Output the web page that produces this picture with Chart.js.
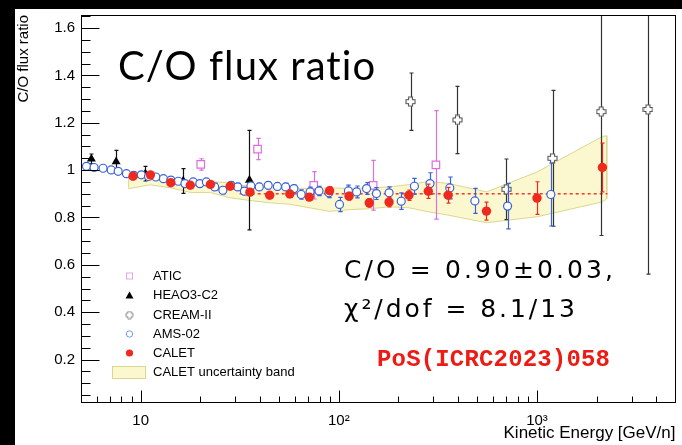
<!DOCTYPE html>
<html>
<head>
<meta charset="utf-8">
<script src="https://cdn.jsdelivr.net/npm/chart.js@4.4.1/dist/chart.umd.min.js"></script>
<style>
  html, body { margin: 0; padding: 0; background: #fff; overflow: hidden; }
  canvas { display: block; }
</style>
</head>
<body>
<canvas id="chart" width="682" height="445"></canvas>
<script>
// ---- C/O flux ratio vs kinetic energy per nucleon ----

// CALET
const calE     = [9.15, 11.2, 14.2, 17.8, 22.5, 28.3, 35.6, 44.8, 56.6, 71.0, 89.8, 112.6, 142.4, 179.3, 225.7, 282.8, 356, 556, 1000, 2138];
const calRatio = [0.974, 0.980, 0.947, 0.936, 0.940, 0.932, 0.907, 0.894, 0.899, 0.886, 0.913, 0.890, 0.862, 0.865, 0.894, 0.911, 0.894, 0.827, 0.882, 1.011];
const calErr   = [0.008, 0.008, 0.009, 0.009, 0.009, 0.010, 0.011, 0.012, 0.013, 0.014, 0.016, 0.016, 0.018, 0.020, 0.022, 0.030, 0.033, 0.038, 0.069, 0.103];

// CALET uncertainty band (upper / lower edge)
const bandE     = [8.7, 9.15, 11.2, 14.2, 17.8, 22.5, 28.3, 35.6, 44.8, 56.6, 71.0, 89.8, 112.6, 142.4, 179.3, 225.7, 282.8, 356, 556, 1000, 2138, 2250];
const bandUpper = [0.971, 0.973, 0.979, 0.956, 0.950, 0.952, 0.946, 0.931, 0.925, 0.923, 0.923, 0.925, 0.923, 0.925, 0.929, 0.939, 0.952, 0.944, 0.908, 0.992, 1.142, 1.145];
const bandLower = [0.922, 0.925, 0.938, 0.925, 0.906, 0.905, 0.883, 0.872, 0.862, 0.856, 0.841, 0.826, 0.833, 0.837, 0.845, 0.841, 0.824, 0.810, 0.778, 0.803, 0.866, 0.879];

// Constant fit to CALET above ~30 GeV/n
const fitE = [31.6, 2265];
const fitValue = 0.90;

// AMS-02
const amsE     = [5.33, 5.82, 6.46, 7.10, 7.70, 8.48, 9.23, 10.08, 10.96, 11.93, 13.03, 14.21, 15.49, 16.73, 18.41, 19.89, 21.46, 23.64, 26.0, 28.61, 30.9, 33.39, 36.02, 39.68, 44.0, 48.98, 53.89, 59.36, 64.57, 71.61, 79.43, 89.13, 100.8, 111.8, 123.0, 138.0, 154.9, 179.3, 206.5, 240.7, 288.4, 363.1, 485.9, 710.5, 1175];
const amsRatio = [1.016, 1.011, 1.008, 1.001, 0.995, 0.985, 0.978, 0.980, 0.973, 0.971, 0.964, 0.958, 0.953, 0.943, 0.950, 0.943, 0.950, 0.929, 0.915, 0.936, 0.929, 0.911, 0.933, 0.929, 0.936, 0.931, 0.929, 0.922, 0.897, 0.908, 0.912, 0.904, 0.855, 0.912, 0.908, 0.922, 0.901, 0.904, 0.869, 0.932, 0.943, 0.925, 0.870, 0.848, 0.897];
const amsErr   = [0.010, 0.010, 0.010, 0.010, 0.010, 0.010, 0.010, 0.010, 0.010, 0.010, 0.010, 0.010, 0.010, 0.010, 0.010, 0.010, 0.010, 0.015, 0.015, 0.015, 0.015, 0.015, 0.015, 0.015, 0.015, 0.015, 0.015, 0.015, 0.020, 0.020, 0.020, 0.020, 0.030, 0.025, 0.025, 0.025, 0.025, 0.025, 0.035, 0.033, 0.046, 0.046, 0.053, 0.096, 0.133];

// HEAO3-C2
const heaoE     = [5.64, 7.52, 10.56, 16.4, 35.4];
const heaoRatio = [1.047, 1.036, 0.985, 0.954, 0.958];
const heaoErr   = [0.021, 0.047, 0.031, 0.052, 0.210];

// ATIC
const aticE     = [20.1, 38.9, 74.7, 149, 309];
const aticRatio = [1.024, 1.089, 0.936, 0.936, 1.022];
const aticErr   = [0.024, 0.045, 0.058, 0.105, 0.229];

// CREAM-II
const creamE     = [230, 397, 700, 1198, 2107, 3631];
const creamRatio = [1.289, 1.212, 0.919, 1.050, 1.247, 1.256];
const creamErr   = [0.121, 0.142, 0.128, 0.287, 0.523, 0.695];

// Axis ticks
const xTickValues = [10, 100, 1000];
const xTickLabels = ['10', '10\u00B2', '10\u00B3'];
const yTickValues = [0.2, 0.4, 0.6, 0.8, 1.0, 1.2, 1.4, 1.6];
const yTickLabels = ['0.2', '0.4', '0.6', '0.8', '1', '1.2', '1.4', '1.6'];

// ---- styling ----
const RED = '#ee2a1f';
const BLUE = '#3a62d6';
const MAGENTA = '#dd6fdd';
const CREAM_GREY = '#555';
const BAND_FILL = '#fbf8d0';
const BAND_EDGE = '#dcd78e';
const AXIS_FONT = 'Liberation Sans';

const pts = (xs, ys) => xs.map((e, i) => ({ x: e, y: ys[i] }));

// open cross marker used for CREAM-II
function openCross(size, arm, stroke, lw) {
  const c = document.createElement('canvas');
  c.width = c.height = size;
  const g = c.getContext('2d');
  const m = size / 2, h = arm / 2, r = size / 2 - 1;
  g.beginPath();
  g.moveTo(m - h, m - r); g.lineTo(m + h, m - r); g.lineTo(m + h, m - h);
  g.lineTo(m + r, m - h); g.lineTo(m + r, m + h); g.lineTo(m + h, m + h);
  g.lineTo(m + h, m + r); g.lineTo(m - h, m + r); g.lineTo(m - h, m + h);
  g.lineTo(m - r, m + h); g.lineTo(m - r, m - h); g.lineTo(m - h, m - h);
  g.closePath();
  g.fillStyle = '#fff'; g.fill();
  g.strokeStyle = stroke; g.lineWidth = lw; g.stroke();
  return c;
}
const creamMarker = openCross(11, 4, CREAM_GREY, 1.1);
const creamLegendMarker = openCross(9, 3.4, '#8a8a8a', 1);

// closed outline of the band: along the upper edge, back along the lower edge
const bandShape = pts(bandE, bandUpper).concat(pts(bandE, bandLower).reverse());
bandShape.push(bandShape[0]);

// ---- plugins ----
const pageBackground = {
  id: 'pageBackground',
  beforeDraw(chart) {
    const { ctx, width, height } = chart;
    ctx.save();
    ctx.fillStyle = '#fff';
    ctx.fillRect(0, 0, width, height);
    ctx.fillStyle = '#000';
    ctx.fillRect(0, 0, width, 9);
    ctx.fillRect(0, 0, 15, height);
    ctx.restore();
  }
};

const errorBars = {
  id: 'errorBars',
  beforeDatasetDraw(chart, args) {
    const ds = chart.data.datasets[args.index];
    if (!ds.errorBars) return;
    const { ctx, chartArea: a, scales: { x, y } } = chart;
    const cap = ds.capWidth || 2.2;
    ctx.save();
    ctx.beginPath();
    ctx.rect(a.left, a.top, a.right - a.left, a.bottom - a.top);
    ctx.clip();
    ctx.strokeStyle = ds.errorColor;
    ctx.lineWidth = ds.errorWidth || 1.2;
    ds.data.forEach((p, i) => {
      const e = ds.errorBars[i];
      const px = Math.round(x.getPixelForValue(p.x)) + 0.5;
      const y1 = y.getPixelForValue(p.y + e);
      const y2 = y.getPixelForValue(p.y - e);
      ctx.beginPath();
      ctx.moveTo(px, y1); ctx.lineTo(px, y2);
      ctx.moveTo(px - cap, y1); ctx.lineTo(px + cap, y1);
      ctx.moveTo(px - cap, y2); ctx.lineTo(px + cap, y2);
      ctx.stroke();
    });
    ctx.restore();
  }
};

const frameTicks = {
  id: 'frameTicks',
  afterDatasetsDraw(chart) {
    const { ctx, chartArea: a, scales: { x, y } } = chart;
    const L = Math.round(a.left) + 0.5, R = Math.round(a.right) - 0.5;
    const T = Math.round(a.top) + 0.5, B = Math.round(a.bottom) - 0.5;
    ctx.save();
    ctx.strokeStyle = '#000';
    ctx.lineWidth = 1;
    ctx.strokeRect(L, T, R - L, B - T);
    ctx.beginPath();
    for (let k = 1; k <= 33; k++) {
      const v = k * 0.05;
      if (v < y.min || v > y.max) continue;
      const py = Math.round(y.getPixelForValue(v)) + 0.5;
      ctx.moveTo(L, py);
      ctx.lineTo(L + (k % 4 === 0 ? 18 : 9), py);
    }
    for (const d of [1, 10, 100, 1000]) {
      for (let m = 1; m <= 9; m++) {
        const v = m * d;
        if (v <= x.min || v >= x.max) continue;
        const px = Math.round(x.getPixelForValue(v)) + 0.5;
        ctx.moveTo(px, B);
        ctx.lineTo(px, B - (m === 1 ? 12 : 6));
      }
    }
    ctx.stroke();
    ctx.restore();
  }
};

// draws a string spread out to a given total width
function fitText(ctx, text, x, y, target) {
  ctx.letterSpacing = '0px';
  const w0 = ctx.measureText(text).width;
  const n = [...text].length;
  const ls = (target - w0) / Math.max(n - 1, 1);
  ctx.letterSpacing = ls.toFixed(2) + 'px';
  ctx.fillText(text, x, y);
  ctx.letterSpacing = '0px';
}

const annotations = {
  id: 'annotations',
  afterDraw(chart) {
    const { ctx } = chart;
    ctx.save();
    ctx.textBaseline = 'alphabetic';
    ctx.textAlign = 'left';

    // headline
    ctx.fillStyle = '#000';
    ctx.font = '40px Lato';
    fitText(ctx, 'C/O flux ratio', 118, 80, 258);

    // fit result
    ctx.font = '25px "DejaVu Sans"';
    fitText(ctx, 'C/O = 0.90\u00B10.03,', 344, 278, 269);
    fitText(ctx, '\u03C7\u00B2/dof = 8.1/13', 344, 317, 231);

    // reference tag
    ctx.fillStyle = '#ee1b14';
    ctx.font = 'bold 24px "Liberation Mono"';
    fitText(ctx, 'PoS(ICRC2023)058', 377, 366, 233);

    // legend
    const mx = 129.5, tx = 153;
    ctx.font = '13px "Liberation Sans"';
    ctx.textBaseline = 'middle';
    const rows = [
      ['ATIC', 276], ['HEAO3-C2', 295.5], ['CREAM-II', 315],
      ['AMS-02', 334], ['CALET', 353], ['CALET uncertainty band', 372]
    ];
    ctx.fillStyle = '#000';
    rows.forEach(([t, ry]) => ctx.fillText(t, tx, ry));

    ctx.lineWidth = 1;
    ctx.strokeStyle = '#e8a6e8';
    ctx.strokeRect(mx - 3, 276 - 3, 6, 6);
    ctx.fillStyle = '#000';
    ctx.beginPath();
    ctx.moveTo(mx, 295.5 - 4); ctx.lineTo(mx + 4, 295.5 + 3); ctx.lineTo(mx - 4, 295.5 + 3);
    ctx.closePath(); ctx.fill();
    ctx.drawImage(creamLegendMarker, mx - 4.5, 315 - 4.5);
    ctx.strokeStyle = '#7c96e4';
    ctx.beginPath(); ctx.arc(mx, 334, 3.2, 0, Math.PI * 2); ctx.stroke();
    ctx.fillStyle = RED;
    ctx.beginPath(); ctx.arc(mx, 353, 3.6, 0, Math.PI * 2); ctx.fill();
    ctx.fillStyle = BAND_FILL;
    ctx.fillRect(112.5, 366, 33, 12);
    ctx.strokeStyle = BAND_EDGE;
    ctx.strokeRect(112.5, 366.5, 33, 12);
    ctx.restore();
  }
};

// ---- chart ----
new Chart(document.getElementById('chart'), {
  type: 'scatter',
  data: {
    datasets: [
      {
        label: 'CALET', data: pts(calE, calRatio), errorBars: calErr, errorColor: RED, capWidth: 2,
        pointStyle: 'circle', pointRadius: 4.7, backgroundColor: RED, borderColor: RED, borderWidth: 0, order: 1
      },
      {
        label: 'AMS-02', data: pts(amsE, amsRatio), errorBars: amsErr, errorColor: BLUE, capWidth: 2.2,
        pointStyle: 'circle', pointRadius: 4, backgroundColor: '#fff', borderColor: BLUE, borderWidth: 1.2, order: 2
      },
      {
        label: 'HEAO3-C2', data: pts(heaoE, heaoRatio), errorBars: heaoErr, errorColor: '#111', capWidth: 2,
        pointStyle: 'triangle', pointRadius: 5.2, backgroundColor: '#000', borderColor: '#000', borderWidth: 0, order: 3
      },
      {
        label: 'CREAM-II', data: pts(creamE, creamRatio), errorBars: creamErr, errorColor: '#333', capWidth: 2,
        pointStyle: creamMarker, order: 4
      },
      {
        label: 'ATIC', data: pts(aticE, aticRatio), errorBars: aticErr, errorColor: MAGENTA, capWidth: 2.2,
        pointStyle: 'rect', pointRadius: 5.3, backgroundColor: '#fff', borderColor: MAGENTA, borderWidth: 1.2, order: 5
      },
      {
        type: 'line', label: 'CALET fit', data: fitE.map(e => ({ x: e, y: fitValue })),
        borderColor: RED, borderWidth: 1.4, borderDash: [3, 3], pointRadius: 0, fill: false, order: 6
      },
      {
        type: 'line', label: 'CALET uncertainty band', data: bandShape,
        borderColor: BAND_EDGE, borderWidth: 1, backgroundColor: BAND_FILL, pointRadius: 0,
        tension: 0, fill: 'shape', order: 9
      }
    ]
  },
  options: {
    responsive: false,
    animation: false,
    devicePixelRatio: 1,
    events: [],
    layout: { padding: { left: 15, top: 12, right: 1, bottom: 0 } },
    plugins: { legend: { display: false }, tooltip: { enabled: false } },
    scales: {
      x: {
        type: 'logarithmic', position: 'bottom', min: 5, max: 5000,
        grid: { display: false, drawTicks: false }, border: { display: false },
        afterBuildTicks: s => { s.ticks = xTickValues.map(v => ({ value: v })); },
        ticks: {
          callback: (v, i) => xTickLabels[i], autoSkip: false, maxRotation: 0,
          font: { family: AXIS_FONT, size: 15 }, color: '#000', padding: 9
        },
        title: {
          display: true, text: 'Kinetic Energy [GeV/n]', align: 'end',
          font: { family: AXIS_FONT, size: 17 }, color: '#000', padding: { top: 0, bottom: 1 }
        },
        afterFit: s => { s.height = 42; }
      },
      y: {
        type: 'linear', position: 'left', min: 0.0167, max: 1.655,
        grid: { display: false, drawTicks: false }, border: { display: false },
        afterBuildTicks: s => { s.ticks = yTickValues.map(v => ({ value: v })); },
        ticks: {
          callback: (v, i) => yTickLabels[i], autoSkip: false,
          font: { family: AXIS_FONT, size: 15 }, color: '#000', padding: 6
        },
        title: {
          display: true, text: 'C/O flux ratio', align: 'end',
          font: { family: AXIS_FONT, size: 15 }, color: '#000', padding: { top: 0, bottom: 0 }
        },
        afterFit: s => { s.width = 66; }
      }
    }
  },
  plugins: [pageBackground, errorBars, frameTicks, annotations]
});
</script>
</body>
</html>
